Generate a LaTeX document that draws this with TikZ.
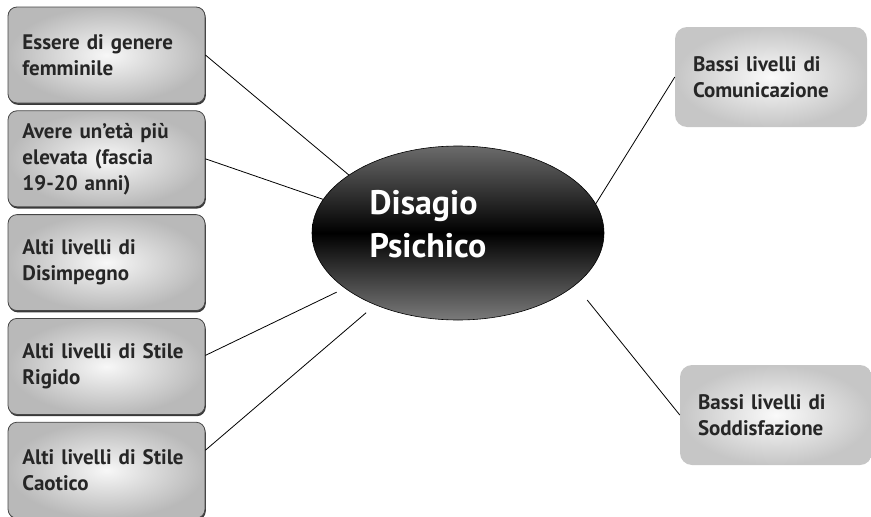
\documentclass[tikz,border=0pt]{standalone}
\usepackage{fontspec}
\setmainfont{PT Sans}
\usetikzlibrary{positioning, shapes.geometric, shadows}

\tikzstyle{factor} = [rectangle, rounded corners=9pt, minimum width=197pt, text width=168pt, inner xsep=14.5pt, inner ysep=4pt, minimum height=96pt, align=left, draw=gray!55!black, line width=0.8pt, inner color=gray!6, outer color=gray!55, text=black!85, font=\fontsize{21}{26}\selectfont\bfseries, drop shadow={shadow xshift=0.8pt, shadow yshift=-1.8pt, fill=gray!45!black, opacity=1}]
\tikzstyle{outcome} = [rectangle, rounded corners=12pt, minimum width=192pt, text width=156pt, inner xsep=18pt, minimum height=100pt, align=left, inner color=gray!4, outer color=gray!45, text=black!85, font=\fontsize{21}{26}\selectfont\bfseries]
\tikzstyle{core} = [ellipse, minimum width=292pt, minimum height=174pt, draw=black, line width=0.6pt, top color=black!58, bottom color=black!52, middle color=black]
\tikzstyle{link} = [line width=0.8pt, black]

\begin{document}
\begin{tikzpicture}[x=1pt, y=-1pt, node distance=7pt]
		\useasboundingbox (0,0) rectangle (871,517);
		\node (distress) [core, label={[text=white, align=left, font=\fontsize{34}{43}\selectfont\bfseries, xshift=-30pt, yshift=9pt]center:Disagio\\Psichico}] at (458,233) {};
		% left column
		\node (female) [factor] at (106.5,55) {Essere di genere\\femminile};
		\node (age) [factor, below=of female] {Avere un'età più\\elevata (fascia\\19-20 anni)};
		\node (disengage) [factor, below=of age] {Alti livelli di\\Disimpegno};
		\node (rigid) [factor, below=of disengage] {Alti livelli di Stile\\Rigido};
		\node (chaotic) [factor, below=of rigid] {Alti livelli di Stile\\Caotico};
		% right column
		\node (communication) [outcome] at (771,77) {Bassi livelli di\\Comunicazione};
		\node (satisfaction) [outcome] at (776,415) {Bassi livelli di\\Soddisfazione};
	
		% Links to the centre
		\draw [link] (female.east) -- (distress.152);
		\draw [link] (age.east) -- (distress.166);
		\draw [link, shorten >=9pt] ([yshift=11pt]rigid.east) -- (distress.206);
		\draw [link, shorten >=12pt] ([yshift=20pt]chaotic.east) -- (distress.221);
		\draw [link] (distress.12) -- (communication.west);
		\draw [link, shorten <=19pt] (distress.-24) -- (satisfaction.west);
	\end{tikzpicture}
\end{document}
